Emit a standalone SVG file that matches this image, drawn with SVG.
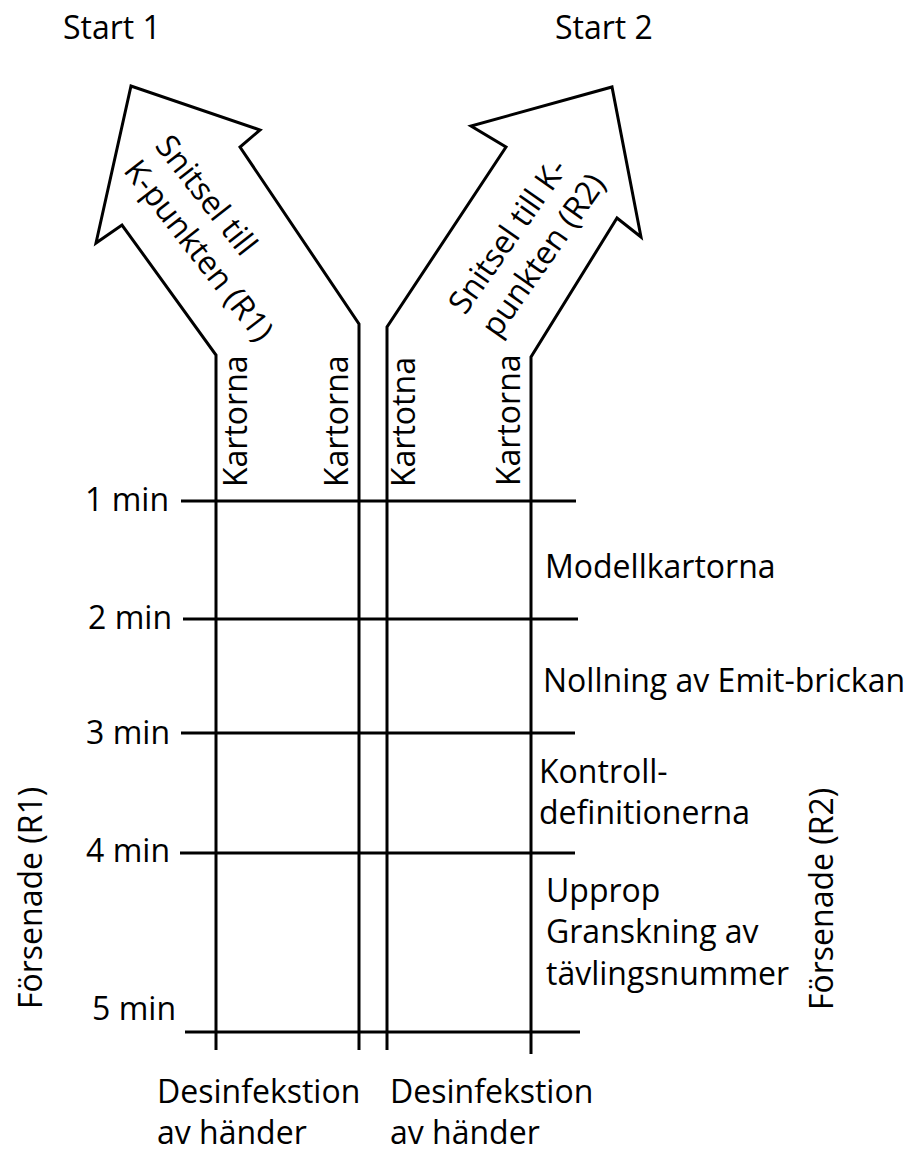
<svg xmlns="http://www.w3.org/2000/svg" width="923" height="1151" viewBox="0 0 923 1151">
<style>
text{font-family:"Open Sans","Noto Sans","DejaVu Sans",sans-serif;font-size:32px;fill:#000}
.ln{stroke:#000;stroke-width:3;fill:none}
.ar{stroke:#000;stroke-width:3;fill:#fff;stroke-linejoin:miter}
</style>
<rect width="923" height="1151" fill="#fff"/>
<g id="arrow1">
<polyline class="ar" points="216,1050 216,355 122,225 96,243 131,86 260,130 240,147 359,324 359,1050"/>
<text transform="translate(154,146) rotate(52)"><tspan x="0" y="0">Snitsel till</tspan><tspan x="0" y="40">K-punkten (R1)</tspan></text>
</g>
<g id="arrow2">
<polyline class="ar" points="387,1050 387,327 506,147 471,126 612,87 641,237 617,218 531,357 531,1054"/>
<text transform="translate(465,316) rotate(-55)"><tspan x="0" y="0">Snitsel till K-</tspan><tspan x="0" y="40">punkten (R2)</tspan></text>
</g>
<g id="connectors">
<line class="ln" x1="181" y1="501" x2="576" y2="501"/>
<line class="ln" x1="183" y1="619" x2="578" y2="619"/>
<line class="ln" x1="181" y1="733" x2="575" y2="733"/>
<line class="ln" x1="180" y1="853" x2="575" y2="853"/>
<line class="ln" x1="185" y1="1032" x2="580" y2="1032"/>
</g>
<g id="kartorna">
<text transform="translate(247,487) rotate(-90)">Kartorna</text>
<text transform="translate(348,487) rotate(-90)">Kartorna</text>
<text transform="translate(415,487) rotate(-90)">Kartotna</text>
<text transform="translate(520,486) rotate(-90)">Kartorna</text>
</g>
<g id="times" text-anchor="end">
<text x="169" y="511">1 min</text>
<text x="172" y="629">2 min</text>
<text x="170" y="744">3 min</text>
<text x="170" y="862">4 min</text>
<text x="176" y="1020">5 min</text>
</g>
<g id="steps">
<text x="545" y="578">Modellkartorna</text>
<text x="543" y="692">Nollning av Emit-brickan</text>
<text x="539" y="783">Kontroll-</text>
<text x="539" y="824">definitionerna</text>
<text x="546" y="902">Upprop</text>
<text x="546" y="943">Granskning av</text>
<text x="546" y="985">tävlingsnummer</text>
</g>
<g id="starts">
<text x="63" y="39">Start 1</text>
<text x="555" y="39">Start 2</text>
</g>
<g id="late">
<text transform="translate(42,1009) rotate(-90)">Försenade (R1)</text>
<text transform="translate(833,1010) rotate(-90)">Försenade (R2)</text>
</g>
<g id="desinfektion">
<text x="157" y="1103">Desinfekstion</text>
<text x="157" y="1144">av händer</text>
<text x="390" y="1103">Desinfekstion</text>
<text x="390" y="1144">av händer</text>
</g>
</svg>
